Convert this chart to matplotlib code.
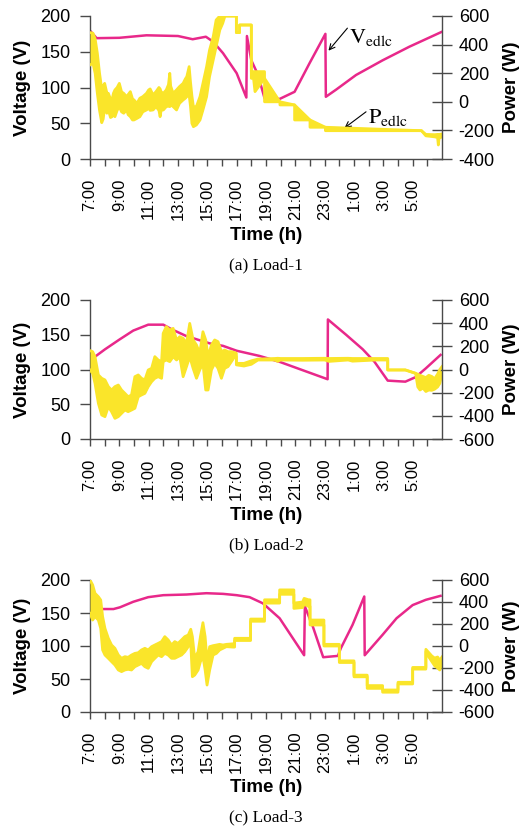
import numpy as np
import matplotlib.pyplot as plt

plt.rcParams['font.family'] = ['Liberation Sans', 'DejaVu Sans']
plt.rcParams['mathtext.fontset'] = 'stix'
plt.rcParams['axes.unicode_minus'] = False

MAGENTA = '#E8288A'
YELLOW = '#FAE52A'
AXCOL = '#4a4a4a'

hour_labels = ['7:00', '', '9:00', '', '11:00', '', '13:00', '', '15:00', '', '17:00', '',
               '19:00', '', '21:00', '', '23:00', '', '1:00', '', '3:00', '', '5:00', '']

# ---- (a) Load-1 ----
a_tv = [0, 0.45, 2.0, 3.85, 6.0, 7.0, 7.9, 8.4, 9.07, 10.0, 10.66, 10.7, 11.0, 11.45, 11.9,
        12.93, 13.95, 14.97, 16.05, 16.08, 16.78, 18.14, 19.95, 21.77, 24.0]
a_volt = [179.5, 169, 169.5, 173, 172, 167.5, 171, 164, 148, 120, 86, 172, 138, 118, 85,
          84, 94, 134, 175, 87, 97, 117.5, 138, 157, 178]
a_tp = [0.0, 0.2, 0.35, 0.5, 0.65, 0.8, 0.9, 1.0, 1.15, 1.25, 1.4, 1.5, 1.6, 1.7, 1.85, 2.0,
        2.15, 2.3, 2.5, 2.6, 2.75, 2.9, 3.0, 3.2, 3.4, 3.6, 3.85, 4.0, 4.1, 4.3, 4.5, 4.7,
        4.78, 4.85, 5.0, 5.2, 5.35, 5.44, 5.5, 5.67, 5.9, 6.1, 6.35, 6.5, 6.6, 6.76, 6.85,
        6.95, 7.05, 7.25, 7.5, 7.7, 7.95, 8.15, 8.4, 8.6, 8.85, 9.05, 9.2, 9.98, 9.98, 10.2,
        10.2, 11.0, 11.0, 11.15, 11.25, 11.9, 11.9, 12.95, 12.95, 13.95, 13.95, 15.0, 15.0,
        16.05, 16.05, 22.6, 22.9, 23.5, 23.7, 23.75, 23.8, 24.0]
a_phi = [484, 480, 440, 340, 200, 90, 110, 129, 60, 59, 20, 13, 60, 83, 100, 129,
         70, 59, 36, 50, 71, 20, 13, -11, 25, 36, 59, 83, 90, 48, 71, 100,
         90, 70, 59, 83, 120, 199, 110, 59, 83, 106, 129, 160, 176, 246, 140,
         40, -34, -34, 36, 129, 246, 362, 455, 572, 600, 600, 600, 600, 484, 484,
         537, 537, 211, 211, 211, 211, 0, 0, -22, -22, -127, -127, -178,
         -178, -202, -202, -228, -230, -228, -235, -228, -225]
a_plo = [257, 270, 200, 60, -60, -146, -120, -40, -80, -57, -110, -104, -90, -104, -60, -34,
         -70, -80, -57, -90, -104, -127, -127, -116, -104, -70, -57, -45, -60, -57, -34, -60,
         -104, -60, -57, -34, -30, -34, -20, -34, -57, -11, 13, 25, 36, 48, -30,
         -151, -174, -162, -127, -57, 36, 176, 292, 385, 502, 549, 600, 600, 484, 484,
         537, 537, 164, 164, 71, 164, 164, 0, 0, -22, -22, -127, -127,
         -178, -178, -202, -238, -245, -250, -302, -255, -245]

# ---- (b) Load-2 ----
b_tv = [0.25, 1.02, 2.0, 2.95, 3.97, 5.0, 5.55, 6.58, 8.16, 9.07, 10.0, 11.56, 12.93, 16.2,
        16.22, 17.46, 18.6, 19.4, 20.3, 21.5, 22.2, 22.9, 23.9]
b_volt = [117, 129, 143, 156, 164.5, 164.5, 158, 148, 137.6, 134, 127, 119.5, 111, 86,
          172, 150, 129, 111, 84, 82.5, 89, 101.7, 121]
b_tp = [0.0, 0.18, 0.34, 0.57, 0.8, 1.02, 1.25, 1.47, 1.7, 1.93, 2.15, 2.38, 2.6, 2.83,
        3.06, 3.29, 3.51, 3.74, 3.97, 4.2, 4.42, 4.65, 4.88, 4.99, 5.2, 5.44, 5.67, 5.9,
        6.12, 6.35, 6.58, 6.8, 7.03, 7.26, 7.48, 7.7, 7.89, 8.05, 8.28, 8.5, 8.73, 8.96,
        9.18, 9.41, 9.64, 9.86, 9.98, 9.98, 10.5, 11.0, 11.45, 12.6, 12.8, 13.0, 14.5,
        16.0, 16.3, 17.6, 17.9, 19.5, 20.3, 20.3, 21.5, 22.2, 22.35, 22.5, 22.7, 22.9,
        23.1, 23.3, 23.5, 23.7, 23.85, 24.0]
b_phi = [163, 154, 111, -47, -76, -90, -148, -177, -148, -134, -177, -206, -235, -220,
         -62, -47, -76, -90, -4, 10, 111, 82, 68, 312, 370, 341, 355, 255,
         283, 269, 226, 398, 255, 212, 140, 326, 255, 111, 212, 255, 240, 154,
         168, 154, 154, 146, 140, 53, 53, 75, 90, 95, 97, 95, 95,
         97, 95, 97, 95, 95, 95, -4, -4, -33, -40, -50, -60, -70,
         -50, -60, -80, -40, 0, 25]
b_plo = [-4, -33, -119, -292, -393, -407, -321, -364, -422, -407, -379, -350, -364, -350,
         -335, -235, -220, -206, -148, -105, -76, -62, -76, 68, 82, 68, 111, 82,
         111, -62, 25, 111, 10, -76, -4, 53, -177, -177, -4, 53, 10, -76,
         10, 25, 68, 111, 111, 40, 30, 45, 82, 82, 70, 82, 80,
         82, 70, 82, 72, 82, 82, -4, -4, -33, -150, -177, -160, -190,
         -177, -180, -170, -150, -120, -30]

# ---- (c) Load-3 ----
c_tv = [0.8, 1.6, 2.04, 2.95, 3.97, 5.0, 6.58, 7.94, 9.07, 10.0, 10.88, 11.56, 11.79, 12.93,
        14.6, 14.65, 15.2, 15.9, 16.9, 17.1, 17.9, 18.7, 18.73, 19.95, 20.9, 22.0, 22.9, 23.9]
c_volt = [156, 156, 158.6, 167, 174, 177, 178, 180, 179, 177, 174, 167, 164.6, 142,
          86, 160, 129, 83, 85, 96.5, 132, 175, 86, 117, 142, 162, 170, 176]
c_tp = [0.0, 0.18, 0.34, 0.57, 0.73, 0.86, 1.02, 1.25, 1.47, 1.7, 1.93, 2.15, 2.38, 2.6,
        2.83, 3.06, 3.29, 3.51, 3.74, 3.97, 4.2, 4.42, 4.65, 4.88, 5.1, 5.33, 5.56, 5.78,
        6.0, 6.24, 6.46, 6.7, 6.87, 6.98, 7.14, 7.37, 7.53, 7.7, 7.85, 7.98, 8.16, 8.39,
        8.62, 8.84, 9.07, 9.3, 9.75, 9.86, 9.86, 10.95, 10.95, 11.9, 11.9, 12.93, 12.93,
        13.9, 13.9, 14.5, 14.6, 14.9, 15.0, 15.0, 15.95, 15.95, 17.0, 17.0, 18.0, 18.0,
        18.9, 18.9, 19.95, 19.95, 21.0, 21.0, 22.0, 22.0, 22.9, 22.9, 23.1, 23.3, 23.5,
        23.7, 23.85, 24.0]
c_phi = [600, 555, 479, 448, 418, 267, 160, 70, 9, -21, -82, -112, -97, -103,
         -82, -67, -61, -36, -21, -36, -6, 9, 24, 40, 85, 55, 9, 40,
         24, 55, 85, 100, 152, 85, -112, -52, 85, 212, 85, -142, -6, 3,
         9, 15, 9, 15, 20, 20, 70, 70, 245, 245, 420, 420, 510,
         510, 390, 400, 433, 420, 420, 236, 236, 15, 15, -135, -135, -265,
         -265, -360, -360, -400, -400, -330, -330, -195, -195, -30, -60, -90, -110,
         -100, -130, -100]
c_plo = [297, 236, 267, 236, 160, -36, -82, -112, -142, -173, -218, -233, -218, -212,
         -218, -188, -173, -158, -188, -203, -142, -112, -82, -97, -67, -82, -112, -112,
         -97, -82, -52, -6, 24, -279, -264, -218, -142, -97, -218, -355, -218, -82,
         -67, -36, -21, -6, -10, -10, 50, 50, 225, 225, 390, 390, 470,
         470, 342, 350, 380, 360, 360, 191, 191, 0, 0, -150, -150, -280,
         -280, -385, -385, -420, -420, -345, -345, -210, -210, -50, -100, -140, -180,
         -200, -218, -160]

panels = [
    (a_tv, a_volt, a_tp, a_phi, a_plo, (-400, 600), '(a) Load-1', 16, 159, 236, 265),
    (b_tv, b_volt, b_tp, b_phi, b_plo, (-600, 600), '(b) Load-2', 300, 439, 516, 545),
    (c_tv, c_volt, c_tp, c_phi, c_plo, (-600, 600), '(c) Load-3', 580, 712, 788, 817),
]

W, H = 532, 832
fig = plt.figure(figsize=(W / 100, H / 100), dpi=100)

x0, x1 = 90, 442
for tv, volt, tp, phi, plo, plim, cap, ytop, ybot, ytime, ycap in panels:
    ax = fig.add_axes([x0 / W, 1 - ybot / H, (x1 - x0) / W, (ybot - ytop) / H])
    ax2 = ax.twinx()
    ax.plot(tv, volt, color=MAGENTA, lw=1.8)
    ax2.fill_between(tp, plo, phi, color=YELLOW, lw=0)
    ax2.plot(tp, phi, color=YELLOW, lw=2.0)
    ax2.plot(tp, plo, color=YELLOW, lw=2.0)

    ax.set_xlim(0, 24)
    ax.set_ylim(0, 200)
    ax.set_yticks([0, 50, 100, 150, 200])
    ax2.set_ylim(*plim)
    ax2.set_yticks(np.arange(plim[0], plim[1] + 1, 200))
    ax.set_xticks(range(24))
    ax.set_xticklabels(hour_labels, rotation=90)

    for a in (ax, ax2):
        a.spines['top'].set_visible(False)
        for s in ('left', 'right', 'bottom'):
            a.spines[s].set_color(AXCOL)
            a.spines[s].set_linewidth(1.0)
    ax.spines['right'].set_visible(False)
    ax2.spines['left'].set_visible(False)
    ax2.spines['bottom'].set_visible(False)
    ax.tick_params(axis='x', direction='out', length=5, width=1, color=AXCOL,
                   labelsize=12, pad=9)
    ax.tick_params(axis='y', direction='out', length=7, width=1, color=AXCOL,
                   labelsize=13, pad=7)
    ax2.tick_params(axis='y', direction='inout', length=14, width=1, color=AXCOL,
                    labelsize=13, pad=5)

    yc = (ytop + ybot) / 2
    fig.text(23 / W, 1 - yc / H, 'Voltage (V)', rotation=90, ha='center', va='center',
             fontsize=13.5, fontweight='bold')
    fig.text(512 / W, 1 - yc / H, 'Power (W)', rotation=90, ha='center', va='center',
             fontsize=13.5, fontweight='bold')
    fig.text(266 / W, 1 - ytime / H, 'Time (h)', ha='center', va='center',
             fontsize=13.5, fontweight='bold')
    fig.text(266 / W, 1 - ycap / H, cap, ha='center', va='center', fontsize=12.5,
             family='Liberation Serif')

    if cap.startswith('(a)'):
        ax.annotate('', xy=(16.26, 151.5), xytext=(17.55, 183),
                    arrowprops=dict(arrowstyle='->', color='black', lw=0.8,
                                    shrinkA=0, shrinkB=0))
        ax.text(17.65, 162, r'$\mathrm{V}_{\mathrm{edlc}}$', fontsize=16,
                ha='left', va='baseline')
        ax.annotate('', xy=(17.35, 43.4), xytext=(18.82, 66),
                    arrowprops=dict(arrowstyle='->', color='black', lw=0.8,
                                    shrinkA=0, shrinkB=0))
        ax.text(18.95, 50.8, r'$\mathrm{P}_{\mathrm{edlc}}$', fontsize=16,
                ha='left', va='baseline')

fig.savefig('out.png', dpi=100)
